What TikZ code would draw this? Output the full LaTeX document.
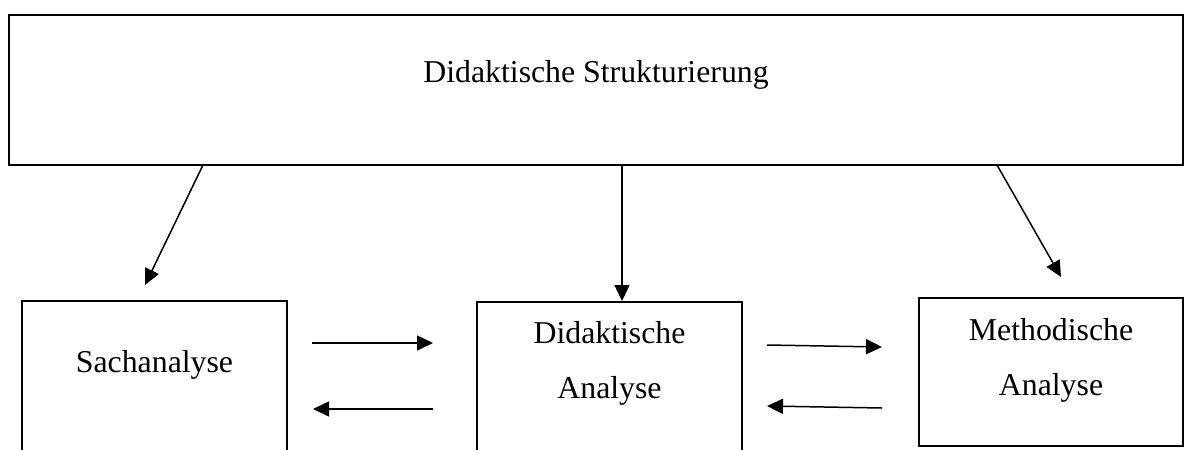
\documentclass[tikz,border=0pt]{standalone}
\usepackage{fontspec}
\setmainfont{Liberation Serif}
\usetikzlibrary{arrows.meta}
\begin{document}
\begin{tikzpicture}[x=0.5pt,y=-0.5pt,
  box/.style={draw=black,line width=1pt,fill=none,inner sep=0pt},
  lbl/.style={font=\fontsize{15.9}{19}\selectfont,inner sep=0pt,anchor=base},
  arr/.style={line width=0.75pt,-{Triangle[length=8pt,width=7.5pt]}}]
\useasboundingbox (0,0) rectangle (1186,449);
\clip (0,0) rectangle (1186,449);
% boxes
\node[box,minimum width=587pt,minimum height=75pt] (top) at (596,90) {};
\node[box,minimum width=132.5pt,minimum height=90pt] (sach) at (154.5,391) {};
\node[box,minimum width=132.5pt,minimum height=90pt] (dida) at (609.5,392) {};
\node[box,minimum width=132pt,minimum height=74pt] (meth) at (1051,372) {};
% texts
\node[lbl] (ttop) at (596,83) {Didaktische Strukturierung};
\node[lbl] (tsach) at (154.5,372) {Sachanalyse};
\node[lbl] (tdida1) at (609.5,343) {Didaktische};
\node[lbl] (tdida2) at (609.5,398) {Analyse};
\node[lbl] (tmeth1) at (1051,340) {Methodische};
\node[lbl] (tmeth2) at (1051,395) {Analyse};
% connector end points
\coordinate (s1) at (203,165);
\coordinate (e1) at (145,285);
\coordinate (s2) at (622,165);
\coordinate (e2) at (622,301);
\coordinate (s3) at (997,165);
\coordinate (e3) at (1061,277);
\coordinate (h1s) at (312,343);
\coordinate (h1e) at (433,343);
\coordinate (h2s) at (433,409);
\coordinate (h2e) at (313,409);
\coordinate (h3s) at (767,345);
\coordinate (h3e) at (882,347);
\coordinate (h4s) at (882,408);
\coordinate (h4e) at (767,406);
% arrows
\draw[arr] (s1) -- (e1);
\draw[arr] (s2) -- (e2);
\draw[arr] (s3) -- (e3);
\draw[arr] (h1s) -- (h1e);
\draw[arr] (h2s) -- (h2e);
\draw[arr] (h3s) -- (h3e);
\draw[arr] (h4s) -- (h4e);
\end{tikzpicture}
\end{document}
